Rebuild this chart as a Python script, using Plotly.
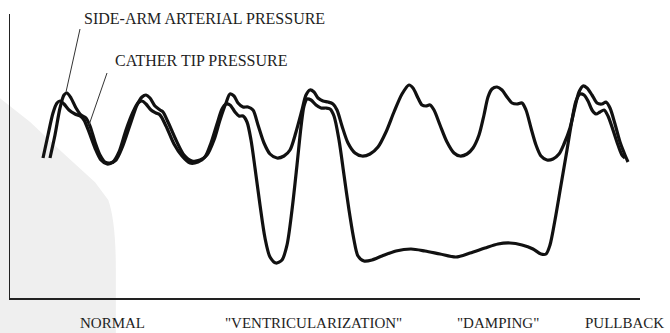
import plotly.graph_objects as go

# Side-arm arterial pressure trace (time units, pressure units above baseline)
time_sidearm = [40, 45, 50, 54, 57, 61, 66, 71, 76, 80, 85, 90, 95, 100, 106, 112, 120, 127, 132, 136,
                140, 145, 150, 153, 158, 166, 174, 182, 190, 197, 204, 210, 216, 220, 224, 228, 233, 238,
                243, 248, 254, 260, 267, 274, 280, 286, 292, 296, 300, 304, 308, 313, 318, 323, 327, 332,
                338, 345, 352, 360, 368, 376, 384, 392, 399, 403, 408, 412, 416, 420, 424, 430, 437, 444,
                450, 457, 463, 469, 474, 478, 482, 487, 492, 497, 502, 507, 512, 516, 521, 526, 531, 537,
                543, 549, 554, 560, 565, 569, 573, 577, 582, 587, 592, 596, 600, 605, 610, 615, 618]
pressure_sidearm = [140, 163, 190, 203, 205, 200, 190, 183, 180, 172, 156, 143, 136, 135, 138, 150, 173, 193, 201, 203,
                    200, 192, 188, 186, 176, 158, 143, 137, 138, 143, 158, 178, 195, 204, 202, 195, 191, 191,
                    188, 173, 155, 144, 140, 142, 148, 166, 188, 203, 208, 206, 200, 197, 196, 194, 188, 172,
                    155, 145, 142, 144, 151, 166, 186, 204, 213, 210, 200, 193, 192, 193, 188, 173, 156, 145,
                    142, 144, 150, 163, 183, 201, 209, 211, 208, 201, 195, 194, 195, 188, 170, 153, 142, 138,
                    139, 144, 154, 170, 191, 206, 212, 210, 203, 195, 194, 196, 190, 174, 156, 143, 136]

# Catheter tip pressure trace
time_tip = [33, 38, 43, 47, 50, 54, 59, 65, 70, 74, 79, 85, 91, 97, 103, 109, 116, 123, 128, 132,
            136, 141, 146, 150, 156, 164, 172, 180, 188, 195, 201, 207, 212, 216, 220, 225, 229, 233,
            237, 241, 245, 250, 255, 260, 266, 272, 277, 282, 287, 291, 294, 297, 301, 306, 311, 316,
            320, 324, 329, 334, 339, 344, 348, 354, 362, 372, 386, 401, 415, 430, 446, 460, 475, 488,
            500, 512, 523, 531, 536, 540, 545, 551, 557, 562, 566, 570, 574, 578, 582, 586, 590, 594,
            598, 603, 608, 612, 615]
pressure_tip = [140, 163, 185, 195, 197, 194, 188, 184, 182, 178, 166, 150, 138, 134, 136, 146, 168, 186, 195, 197,
                194, 188, 185, 183, 172, 154, 142, 135, 136, 141, 155, 174, 189, 194, 193, 186, 182, 182,
                176, 158, 130, 93, 60, 41, 35, 38, 53, 88, 133, 171, 192, 199, 198, 193, 190, 190,
                189, 182, 158, 123, 88, 58, 42, 37, 38, 42, 47, 49, 47, 44, 41, 45, 50, 54,
                55, 53, 49, 44, 44, 53, 78, 113, 148, 178, 197, 204, 203, 197, 188, 184, 186, 188,
                182, 168, 153, 143, 140]

phase_labels = ["NORMAL", "\"VENTRICULARIZATION\"", "\"DAMPING\"", "PULLBACK"]
phase_label_x = [102, 303, 488, 614]
trace_labels = ["SIDE-ARM ARTERIAL PRESSURE", "CATHER TIP PRESSURE"]

LINE = "#111111"
TEXT = "#1e1e1e"
FONT = "Liberation Serif"

fig = go.Figure()
fig.add_trace(go.Scatter(x=time_sidearm, y=pressure_sidearm, mode="lines",
                         line=dict(color=LINE, width=3.2, shape="spline", smoothing=0.8),
                         name=trace_labels[0], hoverinfo="skip"))
fig.add_trace(go.Scatter(x=time_tip, y=pressure_tip, mode="lines",
                         line=dict(color=LINE, width=3.2, shape="spline", smoothing=0.8),
                         name=trace_labels[1], hoverinfo="skip"))

# faint watermark patch at lower left (paper coords)
fig.add_shape(type="path", xref="paper", yref="paper", layer="below",
              path="M -0.016 0.704 L 0.032 0.62 L 0.079 0.521 L 0.135 0.408 L 0.156 0.345 "
                   "Q 0.168 0.27 0.168 0.10 L 0.168 -0.125 L -0.016 -0.125 Z",
              fillcolor="#efefef", line=dict(width=0))

# leader lines
fig.add_shape(type="line", x0=70, y0=269, x1=56, y1=206, line=dict(color="#333", width=1))
fig.add_shape(type="line", x0=97, y0=225, x1=79, y1=173, line=dict(color="#333", width=1))

fig.add_annotation(x=72, y=280, text=trace_labels[0], showarrow=False, xanchor="left", yanchor="middle",
                   font=dict(family=FONT, size=16, color=TEXT))
fig.add_annotation(x=103, y=238, text=trace_labels[1], showarrow=False, xanchor="left", yanchor="middle",
                   font=dict(family=FONT, size=16, color=TEXT))

for lab, lx in zip(phase_labels, phase_label_x):
    fig.add_annotation(x=lx, y=-0.088, xref="x", yref="paper", text=lab, showarrow=False,
                       xanchor="center", yanchor="middle",
                       font=dict(family=FONT, size=15, color=TEXT))

fig.update_xaxes(range=[0, 630], showline=True, linecolor="#222", linewidth=1.5,
                 showgrid=False, zeroline=False, showticklabels=False, ticks="")
fig.update_yaxes(range=[0, 284], showline=True, linecolor="#222", linewidth=1.5,
                 showgrid=False, zeroline=False, showticklabels=False, ticks="")
fig.update_layout(width=670, height=333, margin=dict(l=10, r=30, t=14, b=35),
                  paper_bgcolor="white", plot_bgcolor="rgba(0,0,0,0)", showlegend=False)

fig.write_html("out.html", config={"displayModeBar": False, "staticPlot": True},
               post_script="document.body.style.margin='0';document.body.style.overflow='hidden';")
